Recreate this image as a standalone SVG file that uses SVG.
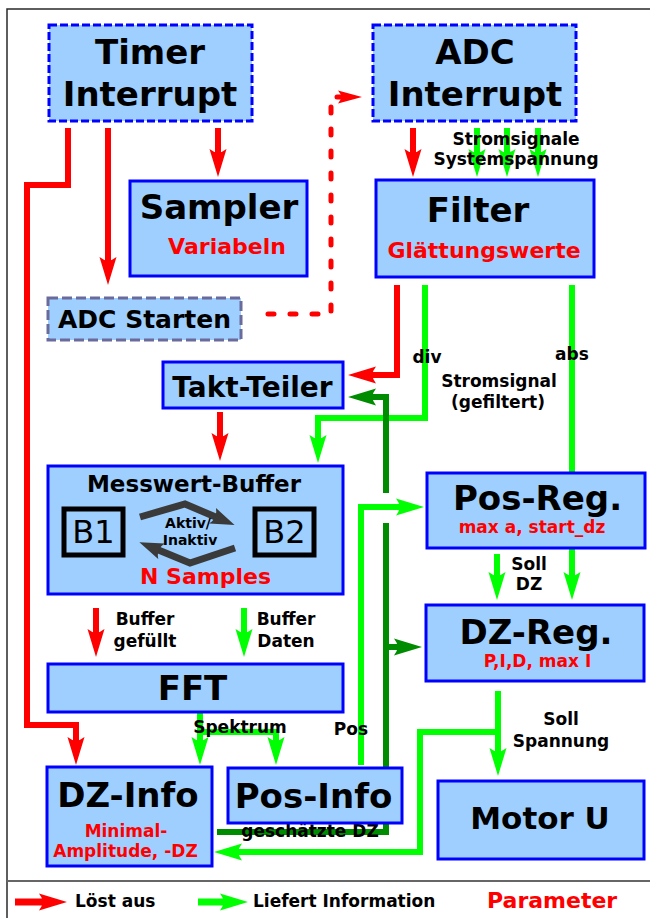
<svg xmlns="http://www.w3.org/2000/svg" width="650" height="918" viewBox="0 0 650 918">
<defs>
<style>
.nd{fill:#9ecfff;stroke:#0000ff;stroke-width:3}
.dash{stroke-dasharray:8 3}
.gdash{stroke:#6b6b9b;stroke-dasharray:10 4}
.t{font-family:"DejaVu Sans","Liberation Sans",sans-serif;font-weight:bold;text-anchor:middle;fill:#000}
.p{fill:#ff0000}
.c{fill:none;stroke-width:6}
.r{stroke:#ff0000}
.g{stroke:#00ff00}
.dg{stroke:#008c00}
.ra{marker-end:url(#mr)}
.ga{marker-end:url(#mg)}
.da{marker-end:url(#md)}
</style>
<marker id="mr" markerUnits="userSpaceOnUse" viewBox="0 -9 28 18" markerWidth="28" markerHeight="18" refX="8" refY="0" orient="auto"><path d="M28,0 L0,-8.5 Q7,0 0,8.5 Z" fill="#ff0000"/></marker>
<marker id="mg" markerUnits="userSpaceOnUse" viewBox="0 -9 28 18" markerWidth="28" markerHeight="18" refX="8" refY="0" orient="auto"><path d="M28,0 L0,-8.5 Q7,0 0,8.5 Z" fill="#00ff00"/></marker>
<marker id="md" markerUnits="userSpaceOnUse" viewBox="0 -9 28 18" markerWidth="28" markerHeight="18" refX="8" refY="0" orient="auto"><path d="M28,0 L0,-8.5 Q7,0 0,8.5 Z" fill="#008c00"/></marker>
<marker id="mdot" markerUnits="userSpaceOnUse" viewBox="0 -7 24 14" markerWidth="24" markerHeight="14" refX="2" refY="0" orient="auto"><path d="M24,0 L0,-6.5 Q6,0 0,6.5 Z" fill="#ff0000"/></marker>
<marker id="mk" markerUnits="userSpaceOnUse" viewBox="0 -9 24 18" markerWidth="24" markerHeight="18" refX="6" refY="0" orient="auto"><path d="M24,0 L0,-8.5 Q6,0 0,8.5 Z" fill="#3a3a3a"/></marker>
</defs>

<g id="frame" fill="none">
<path d="M650,9 H7 V918" stroke="#2a2a2a" stroke-width="1.5"/>
<path d="M7,881 H650" stroke="#666" stroke-width="2"/>
</g>

<g id="connectors">
<path class="c r ra" d="M68,128 V185 H27 V725 H76 V745"/>
<path class="c r ra" d="M108,128 V265"/>
<path class="c r ra" d="M218,128 V157"/>
<path class="c r ra" d="M413,128 V157"/>
<path class="c g ga" d="M477,128 V157"/>
<path class="c g ga" d="M507,128 V157"/>
<path class="c g ga" d="M538,128 V157"/>
<path d="M268,314 H331 V97 H340" fill="none" stroke="#ff0000" stroke-width="5" stroke-linecap="round" stroke-dasharray="6 16" marker-end="url(#mdot)"/>
<path class="c r ra" d="M397,285 V375 H368"/>
<path class="c g ga" d="M425,285 V418 H318 V443"/>
<path class="c g" d="M572,285 V473"/>
<path class="c g ga" d="M572,548 V580"/>
<path class="c g ga" d="M497,554 V580"/>
<path class="c r ra" d="M220,412 V441"/>
<path class="c r ra" d="M96,608 V637"/>
<path class="c g ga" d="M244,608 V637"/>
<path class="c g ga" d="M200,712 V745"/>
<path class="c g ga" d="M200,732 H276 V745"/>
<path class="c dg" d="M217,832 H386 V523"/>
<path class="c dg da" d="M386,493 V397 H368"/>
<path class="c dg da" d="M386,647 H402"/>
<path class="c g ga" d="M361,765 V507 H404"/>
<path class="c g ga" d="M498,691 V756"/>
<path class="c g ga" d="M498,732 H420 V852 H234"/>
</g>

<g id="connector-labels" class="t" font-size="17">
<text x="516" y="145">Stromsignale</text>
<text x="516" y="165">Systemspannung</text>
<text x="427" y="363">div</text>
<text x="572" y="360">abs</text>
<text x="499" y="387">Stromsignal</text>
<text x="498" y="408">(gefiltert)</text>
<text x="529" y="570">Soll</text>
<text x="529" y="590">DZ</text>
<text x="145" y="625">Buffer</text>
<text x="145" y="647">gefüllt</text>
<text x="286" y="625">Buffer</text>
<text x="286" y="647">Daten</text>
<text x="240" y="733">Spektrum</text>
<text x="351" y="735">Pos</text>
<text x="561" y="725">Soll</text>
<text x="561" y="747">Spannung</text>
<text x="310" y="837">geschätzte DZ</text>
</g>

<g id="timer-interrupt">
<rect class="nd dash" x="49" y="25" width="203" height="96"/>
<text class="t" x="150" y="64" font-size="34">Timer</text>
<text class="t" x="150" y="106" font-size="34">Interrupt</text>
</g>

<g id="adc-interrupt">
<rect class="nd dash" x="373" y="25" width="203" height="96"/>
<text class="t" x="475" y="64" font-size="34">ADC</text>
<text class="t" x="475" y="106" font-size="34">Interrupt</text>
</g>

<g id="sampler">
<rect class="nd" x="130" y="181" width="177" height="95"/>
<text class="t" x="219" y="219" font-size="34">Sampler</text>
<text class="t p" x="227" y="254" font-size="22">Variabeln</text>
</g>

<g id="filter">
<rect class="nd" x="376" y="180" width="218" height="97"/>
<text class="t" x="478" y="222" font-size="34">Filter</text>
<text class="t p" x="484" y="258" font-size="22">Glättungswerte</text>
</g>

<g id="adc-starten">
<rect class="nd gdash" x="48" y="298" width="193" height="42"/>
<text class="t" x="144.5" y="328" font-size="25">ADC Starten</text>
</g>

<g id="takt-teiler">
<rect class="nd" x="163" y="362" width="180" height="46"/>
<text class="t" x="252.5" y="397" font-size="28">Takt-Teiler</text>
</g>

<g id="messwert-buffer">
<rect class="nd" x="48" y="466" width="295" height="128" stroke-width="4"/>
<text class="t" x="194" y="492" font-size="23">Messwert-Buffer</text>
<rect x="64" y="509" width="59" height="46" fill="none" stroke="#000" stroke-width="5"/>
<text x="93.5" y="543" font-size="32" text-anchor="middle" font-family="'DejaVu Sans',sans-serif">B1</text>
<rect x="255" y="509" width="59" height="46" fill="none" stroke="#000" stroke-width="5"/>
<text x="284.5" y="543" font-size="32" text-anchor="middle" font-family="'DejaVu Sans',sans-serif">B2</text>
<path d="M140,517 L185,504 L218,518" fill="none" stroke="#3a3a3a" stroke-width="7" marker-end="url(#mk)"/>
<path d="M235,548 L190,563 L156,549" fill="none" stroke="#3a3a3a" stroke-width="7" marker-end="url(#mk)"/>
<text class="t" x="188" y="528" font-size="14">Aktiv/</text>
<text class="t" x="190" y="545" font-size="14">Inaktiv</text>
<text class="t p" x="205.5" y="584" font-size="22">N Samples</text>
</g>

<g id="pos-reg">
<rect class="nd" x="427" y="473" width="218" height="75"/>
<text class="t" x="537.5" y="510" font-size="34">Pos-Reg.</text>
<text class="t p" x="532" y="533" font-size="17">max a, start_dz</text>
</g>

<g id="dz-reg">
<rect class="nd" x="426" y="605" width="218" height="76"/>
<text class="t" x="536" y="644" font-size="34">DZ-Reg.</text>
<text class="t p" x="537.5" y="667" font-size="17">P,I,D, max I</text>
</g>

<g id="fft">
<rect class="nd" x="48" y="664" width="295" height="48"/>
<text class="t" x="192.5" y="700" font-size="34">FFT</text>
</g>

<g id="dz-info">
<rect class="nd" x="47" y="767" width="165" height="99"/>
<text class="t" x="128" y="807" font-size="34">DZ-Info</text>
<text class="t p" x="126" y="837" font-size="17">Minimal-</text>
<text class="t p" x="125.5" y="857" font-size="17">Amplitude, -DZ</text>
</g>

<g id="pos-info">
<rect class="nd" x="228" y="768" width="174" height="55"/>
<text class="t" x="313.5" y="808" font-size="34">Pos-Info</text>
</g>

<g id="motor-u">
<rect class="nd" x="438" y="781" width="206" height="78"/>
<text class="t" x="540" y="829" font-size="31">Motor U</text>
</g>

<g id="legend">
<path d="M15,902 H47" fill="none" stroke="#ff0000" stroke-width="7" marker-end="url(#mr)"/>
<text class="t" x="75" y="907" font-size="17" style="text-anchor:start">Löst aus</text>
<path d="M198,902 H228" fill="none" stroke="#00ff00" stroke-width="7" marker-end="url(#mg)"/>
<text class="t" x="253" y="907" font-size="17" style="text-anchor:start">Liefert Information</text>
<text class="t p" x="487" y="908" font-size="22" style="text-anchor:start">Parameter</text>
</g>
</svg>
